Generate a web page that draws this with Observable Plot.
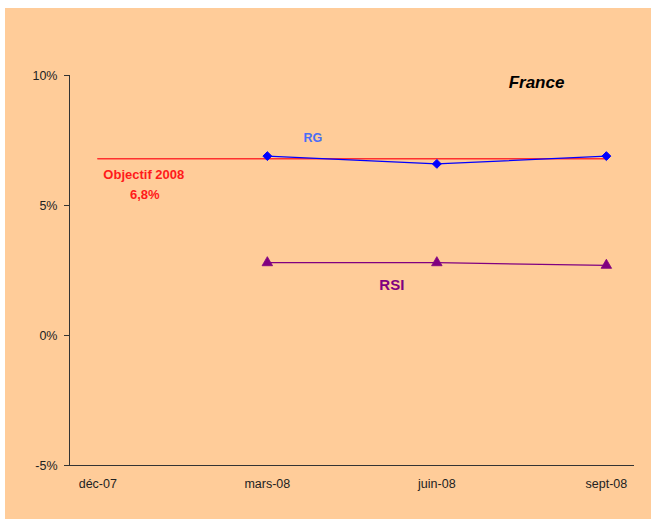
<!DOCTYPE html>
<html>
<head>
<meta charset="utf-8">
<script src="https://cdn.jsdelivr.net/npm/d3@7"></script>
<script src="https://cdn.jsdelivr.net/npm/@observablehq/plot@0.6"></script>
<style>
  html, body { margin: 0; padding: 0; background: #ffffff; }
  #chart { position: absolute; left: 5px; top: 8px; width: 646px; height: 511px; background: #FFCC99; }
</style>
</head>
<body>
<div id="chart"></div>
<script>
const months = ["déc-07", "mars-08", "juin-08", "sept-08"];
const rgValues = [null, 6.9, 6.6, 6.9];
const rsiValues = [null, 2.8, 2.8, 2.7];
const objectifValue = 6.8;
const objectifLabels = ["Objectif 2008", "6,8%"];
const yTicks = [-5, 0, 5, 10];
const title = "France";
const xDomain = [-0.167, 3.166];

const toRows = vals => vals.map((v, i) => ({i, v})).filter(d => d.v != null);
const rgData = toRows(rgValues);
const rsiData = toRows(rsiValues);
const objData = [{i: 0, v: objectifValue}, {i: months.length - 1, v: objectifValue}];

const font = "'Liberation Sans', Arial, sans-serif";

const chart = Plot.plot({
  width: 646,
  height: 511,
  marginLeft: 64,
  marginRight: 17,
  marginTop: 67,
  marginBottom: 54,
  style: {background: "#FFCC99", fontFamily: font, fontSize: "12px", color: "#222"},
  x: {domain: xDomain, axis: null, label: null},
  y: {domain: [-5, 10], axis: null, label: null},
  marks: [
    Plot.ruleY([yTicks[0]], {stroke: "#333", strokeWidth: 1}),
    Plot.ruleX([xDomain[0]], {stroke: "#333", strokeWidth: 1}),
    Plot.axisY(yTicks, {label: null, tickSize: 5, tickPadding: 7, tickFormat: d => d + "%", stroke: "#333", fill: "#222", fontSize: 12.5}),
    Plot.axisX(months.map((m, i) => i), {label: null, tickSize: 0, tickPadding: 14, tickFormat: i => months[i], fill: "#222", fontSize: 12.5}),
    Plot.line(objData, {x: "i", y: "v", stroke: "#ff3030", strokeWidth: 1.5}),
    Plot.line(rgData, {x: "i", y: "v", stroke: "#0000ff", strokeWidth: 1.3}),
    Plot.dot(rgData, {x: "i", y: "v", symbol: "diamond2", r: 4, fill: "#0000ff", stroke: "#0000ff", strokeWidth: 1}),
    Plot.line(rsiData, {x: "i", y: "v", stroke: "#800080", strokeWidth: 1.3}),
    Plot.dot(rsiData, {x: "i", y: "v", symbol: "triangle", r: 3.9, fill: "#800080", stroke: "#800080", strokeWidth: 0.8}),
    Plot.text([objData[0]], {x: "i", y: "v", text: () => objectifLabels[0], dx: 46, dy: 16, fill: "#ff1a1a", fontWeight: "bold", fontSize: 13}),
    Plot.text([objData[0]], {x: "i", y: "v", text: () => objectifLabels[1], dx: 47, dy: 36, fill: "#ff1a1a", fontWeight: "bold", fontSize: 13}),
    Plot.text([rgData[0]], {x: "i", y: "v", text: () => "RG", dx: 45.5, dy: -18, fill: "#4a6cf7", fontWeight: "bold", fontSize: 12.5}),
    Plot.text([rsiData[0]], {x: "i", y: "v", text: () => "RSI", dx: 124.5, dy: 22, fill: "#800080", fontWeight: "bold", fontSize: 15}),
    Plot.text([title], {frameAnchor: "top-right", textAnchor: "middle", lineAnchor: "middle", dx: -98, dy: 7, fill: "#000", fontWeight: "bold", fontStyle: "italic", fontSize: 17})
  ]
});
document.getElementById("chart").appendChild(chart);
</script>
</body>
</html>
